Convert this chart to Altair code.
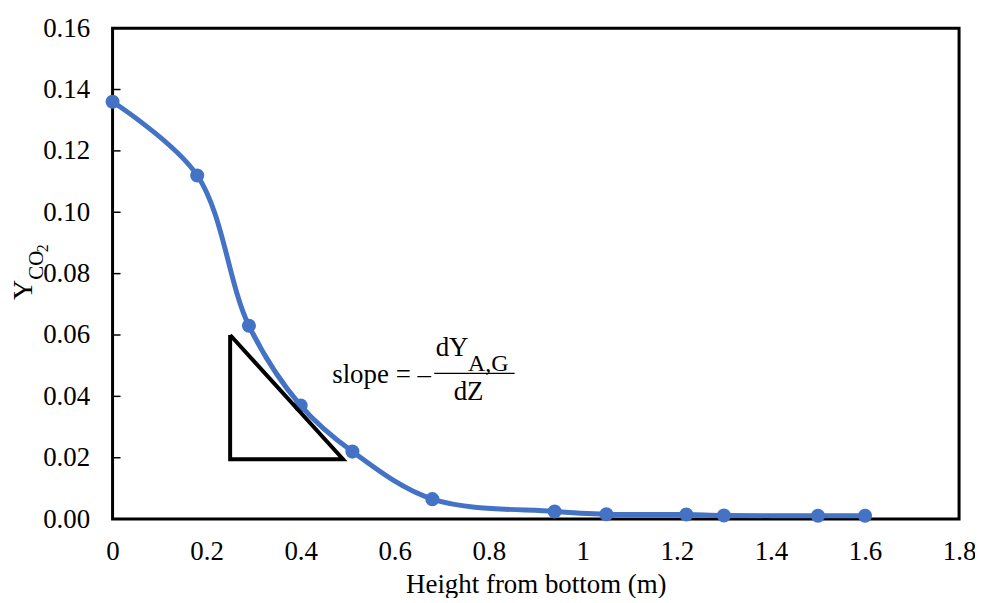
import altair as alt
import pandas as pd

# Data
height_m = [0.0, 0.18, 0.29, 0.40, 0.51, 0.68, 0.94, 1.05, 1.22, 1.30, 1.50, 1.60]
y_co2 = [0.136, 0.112, 0.063, 0.037, 0.022, 0.0065, 0.0025, 0.0016, 0.0015, 0.0012, 0.0011, 0.0011]

x_ticks = [0, 0.2, 0.4, 0.6, 0.8, 1.0, 1.2, 1.4, 1.6, 1.8]
y_ticks = [0.0, 0.02, 0.04, 0.06, 0.08, 0.10, 0.12, 0.14, 0.16]

# slope triangle (data coordinates)
tri_x = [0.25, 0.25, 0.49, 0.25]
tri_y = [0.060, 0.0195, 0.0195, 0.060]

# annotation pieces (data coordinates)
ann_text = ["slope = \u2013", "dY", "A,G", "dZ"]
ann_x = [0.677, 0.722, 0.756, 0.757]
ann_y = [0.0468, 0.0557, 0.0505, 0.0413]
ann_size = [27, 27, 24, 27]
ann_align = ["right", "center", "left", "center"]
frac_x = [0.684, 0.855]
frac_y = [0.0475, 0.0475]

FONT = "Liberation Serif"
BLUE = "#4472C4"

df = pd.DataFrame({"x": height_m, "y": y_co2})
tri = pd.DataFrame({"x": tri_x, "y": tri_y, "o": list(range(len(tri_x)))})
ann = pd.DataFrame({"t": ann_text, "x": ann_x, "y": ann_y, "s": ann_size, "a": ann_align})
frac = pd.DataFrame({"x": frac_x, "y": frac_y})
yt = pd.DataFrame({"y": y_ticks[:-1]})

xs = alt.Scale(domain=[0, 1.8], nice=False)
ys = alt.Scale(domain=[0, 0.16], nice=False)

x_axis = alt.Axis(values=x_ticks, format="~g", labelPadding=20,
                  title="Height from bottom (m)", titlePadding=7)
y_axis = alt.Axis(values=y_ticks, format=".2f", labelPadding=23, title=None)

base = alt.Chart(df)

line = base.mark_line(color=BLUE, strokeWidth=5, interpolate="catmull-rom").encode(
    x=alt.X("x:Q", scale=xs, axis=x_axis),
    y=alt.Y("y:Q", scale=ys, axis=y_axis),
)
pts = base.mark_circle(color=BLUE, size=200, opacity=1).encode(
    x=alt.X("x:Q", scale=xs, axis=x_axis),
    y=alt.Y("y:Q", scale=ys, axis=y_axis),
)

ticks = alt.Chart(yt).mark_rule(color="black", strokeWidth=1.5).encode(
    x=alt.value(0), x2=alt.value(8), y=alt.Y("y:Q", scale=ys, axis=y_axis)
)

triangle = alt.Chart(tri).mark_line(color="black", strokeWidth=4, strokeJoin="miter").encode(
    x=alt.X("x:Q", scale=xs, axis=x_axis), y=alt.Y("y:Q", scale=ys, axis=y_axis), order="o:Q"
)

ann_layers = []
for i in range(len(ann_text)):
    sub = ann.iloc[[i]]
    ann_layers.append(
        alt.Chart(sub).mark_text(font=FONT, fontSize=ann_size[i], color="black",
                                 align=ann_align[i], baseline="middle").encode(
            x=alt.X("x:Q", scale=xs, axis=x_axis), y=alt.Y("y:Q", scale=ys, axis=y_axis), text="t:N")
    )

frac_line = alt.Chart(frac).mark_line(color="black", strokeWidth=1.2).encode(
    x=alt.X("x:Q", scale=xs, axis=x_axis), y=alt.Y("y:Q", scale=ys, axis=y_axis)
)

ytitle_text = ["Y", "CO", "2"]
ytitle_df = pd.DataFrame({"t": ytitle_text})
yt_sizes = [28, 21, 16]
yt_px = [-89, -76, -70]
yt_py = [263, 238, 221]
ytitle_layers = []
for i in range(3):
    ytitle_layers.append(
        alt.Chart(ytitle_df.iloc[[i]]).mark_text(font=FONT, fontSize=yt_sizes[i], color="black",
                                                 angle=270, align="center", baseline="middle").encode(
            x=alt.value(yt_px[i]), y=alt.value(yt_py[i]), text="t:N")
    )

chart = alt.layer(line, pts, ticks, triangle, frac_line, *ann_layers, *ytitle_layers).properties(
    width=850, height=493,
    autosize=alt.AutoSizeParams(type="none"),
    padding={"left": 105, "top": 19, "right": 16, "bottom": 78},
    background="white",
).configure_view(
    stroke="black", strokeWidth=3
).configure_axis(
    ticks=False, grid=False, domain=False, labelFlush=False,
    labelFont=FONT, labelFontSize=27, labelColor="black",
    titleFont=FONT, titleFontSize=27, titleFontWeight="normal", titleColor="black",
)

chart.save("out.html", embed_options={"renderer": "svg", "actions": False})
